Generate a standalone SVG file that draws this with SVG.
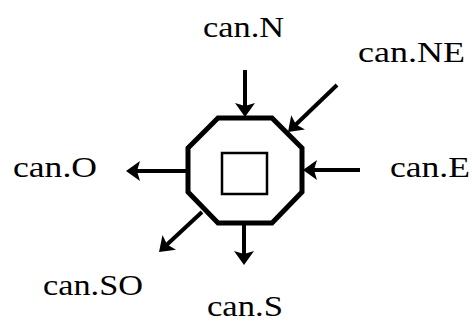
<svg xmlns="http://www.w3.org/2000/svg" width="472" height="321" viewBox="0 0 472 321">
  <style>
    .lbl { font-family: "Liberation Serif", "Times New Roman", serif; font-size: 30px; fill: #000; }
    .arr { stroke: #000; stroke-width: 4; fill: none; marker-end: url(#head); }
  </style>
  <defs>
    <marker id="head" viewBox="0 0 14 20" refX="6" refY="10" markerWidth="14" markerHeight="20" markerUnits="userSpaceOnUse" orient="auto">
      <path d="M0,0 L14,10 L0,20 L3,10 Z" fill="#000"/>
    </marker>
  </defs>
  <rect width="472" height="321" fill="#fff"/>
  <g id="node-center">
    <polygon points="218,118 272,118 302,148 302,192 272,223 218,223 188,192 188,148" fill="none" stroke="#000" stroke-width="5" stroke-linejoin="miter"/>
    <rect x="222" y="153" width="45" height="41" fill="none" stroke="#000" stroke-width="2.5"/>
  </g>
  <g id="connectors">
    <line class="arr" x1="245" y1="70" x2="245" y2="109"/>
    <line class="arr" x1="337" y1="85" x2="293.8" y2="126.5"/>
    <line class="arr" x1="360" y1="170" x2="311" y2="170"/>
    <line class="arr" x1="186" y1="171" x2="134" y2="171"/>
    <line class="arr" x1="202" y1="212" x2="164.9" y2="246.5"/>
    <line class="arr" x1="244" y1="225" x2="244" y2="257"/>
  </g>
  <g id="label-N"><text class="lbl" x="203" y="37" textLength="81" lengthAdjust="spacingAndGlyphs">can.N</text></g>
  <g id="label-NE"><text class="lbl" x="358" y="62" textLength="107" lengthAdjust="spacingAndGlyphs">can.NE</text></g>
  <g id="label-O"><text class="lbl" x="13" y="177" textLength="84" lengthAdjust="spacingAndGlyphs">can.O</text></g>
  <g id="label-E"><text class="lbl" x="390" y="177" textLength="80" lengthAdjust="spacingAndGlyphs">can.E</text></g>
  <g id="label-SO"><text class="lbl" x="43" y="295" textLength="100" lengthAdjust="spacingAndGlyphs">can.SO</text></g>
  <g id="label-S"><text class="lbl" x="207" y="316" textLength="76" lengthAdjust="spacingAndGlyphs">can.S</text></g>
</svg>
